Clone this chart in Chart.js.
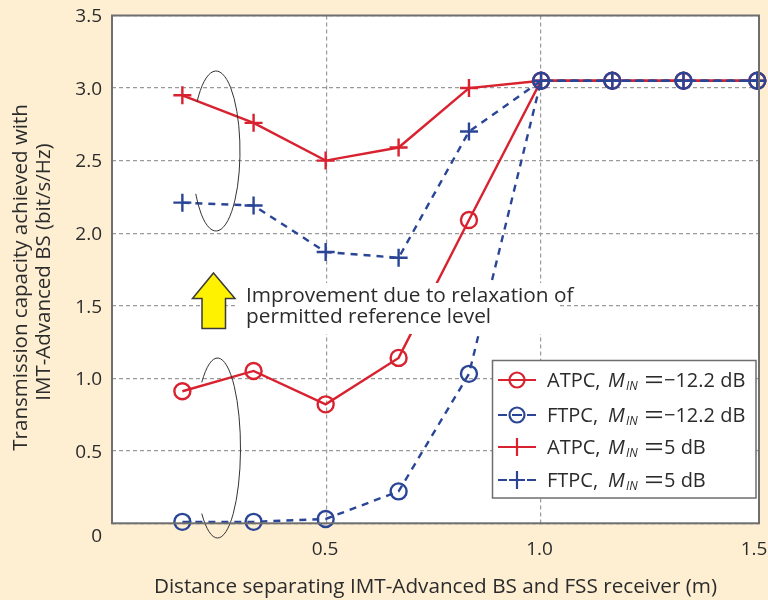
<!DOCTYPE html>
<html>
<head>
<meta charset="utf-8">
<title>Transmission capacity</title>
<script src="https://cdn.jsdelivr.net/npm/chart.js@4/dist/chart.umd.min.js"></script>
<style>
    html, body { margin: 0; padding: 0; background: #feefd3; }
    canvas { display: block; }
</style>
</head>
<body>
<canvas id="capacityChart" width="768" height="600"></canvas>
<script>
// values
const distances = [0.164, 0.33, 0.498, 0.668, 0.832, 1.0, 1.166, 1.332, 1.504];
const atpcLow = [0.91, 1.05, 0.82, 1.14, 2.09, 3.05, 3.05, 3.05, 3.05];
const ftpcLow = [0.01, 0.01, 0.03, 0.22, 1.03, 3.05, 3.05, 3.05, 3.05];
const atpcHigh = [2.95, 2.76, 2.5, 2.59, 3.0, 3.05, 3.05, 3.05, 3.05];
const ftpcHigh = [2.21, 2.19, 1.87, 1.83, 2.7, 3.05, 3.05, 3.05, 3.05];
const xTicks = [0.5, 1.0, 1.5];
const yTicks = [0, 0.5, 1.0, 1.5, 2.0, 2.5, 3.0, 3.5];

const RED = '#d8222f';
const BLUE = '#2a4596';
const DASH = [7, 6];
const FONT = '"Open Sans", "Noto Sans", sans-serif';
const TEXT = '#2b2b2b';
const GRID = '#9a9a9a';

function series(label, values, color, style, dashed, order) {
    return {
        label: label,
        data: values.map((v, i) => ({ x: distances[i], y: v })),
        showLine: true,
        borderColor: color,
        borderWidth: 2.4,
        borderDash: dashed ? DASH : [],
        pointStyle: style,
        pointRadius: style === 'circle' ? 8 : 9,
        pointBackgroundColor: 'transparent',
        pointBorderColor: color,
        pointBorderWidth: 2.4,
        tension: 0,
        clip: false,
        order: order,
    };
}

function drawEllipse(ctx, cx, cy, rx, ry, from, to) {
    ctx.save();
    ctx.strokeStyle = '#333';
    ctx.lineWidth = 1;
    ctx.beginPath();
    ctx.ellipse(cx, cy, rx, ry, 0, from, to);
    ctx.stroke();
    ctx.restore();
}

function drawArrow(ctx) {
    ctx.save();
    ctx.fillStyle = '#fff200';
    ctx.strokeStyle = '#3a3a3a';
    ctx.lineWidth = 1.5;
    ctx.beginPath();
    ctx.moveTo(213.5, 273);
    ctx.lineTo(235, 298.5);
    ctx.lineTo(225.5, 298.5);
    ctx.lineTo(225.5, 328.5);
    ctx.lineTo(202, 328.5);
    ctx.lineTo(202, 298.5);
    ctx.lineTo(192.5, 298.5);
    ctx.closePath();
    ctx.fill();
    ctx.stroke();
    ctx.restore();
}

function drawLegendRow(ctx, name, value, color, style, dashed, midY, baseY) {
    ctx.strokeStyle = color;
    ctx.lineWidth = 2.2;
    if (dashed) {
        ctx.beginPath();
        ctx.moveTo(498, midY);
        ctx.lineTo(507, midY);
        ctx.moveTo(527, midY);
        ctx.lineTo(536, midY);
        ctx.stroke();
    }
    ctx.beginPath();
    if (!dashed || style === 'cross') {
        ctx.moveTo(dashed ? 509 : 498, midY);
        ctx.lineTo(dashed ? 525 : 536, midY);
    } else {
        ctx.moveTo(512, midY);
        ctx.lineTo(522, midY);
    }
    if (style === 'cross') {
        ctx.moveTo(517, midY - 9);
        ctx.lineTo(517, midY + 9);
    } else {
        ctx.moveTo(517 + 7.5, midY);
        ctx.arc(517, midY, 7.5, 0, Math.PI * 2);
    }
    ctx.stroke();

    ctx.fillStyle = TEXT;
    ctx.textAlign = 'left';
    ctx.textBaseline = 'alphabetic';
    ctx.font = '20px ' + FONT;
    ctx.fillText(name + ',', 547, baseY);
    ctx.font = 'italic 20px ' + FONT;
    ctx.fillText('M', 608, baseY);
    ctx.font = 'italic 12px ' + FONT;
    ctx.fillText('IN', 626, baseY + 3);
    ctx.font = '20px ' + FONT;
    ctx.fillRect(646, baseY - 11, 16, 1.6);
    ctx.fillRect(646, baseY - 5.5, 16, 1.6);
    ctx.fillText(value, 664, baseY);
}

const plotBackground = {
    id: 'plotBackground',
    beforeDraw(chart) {
        const area = chart.chartArea;
        chart.ctx.save();
        chart.ctx.fillStyle = '#fff';
        chart.ctx.fillRect(area.left, area.top, area.right - area.left, area.bottom - area.top);
        chart.ctx.restore();
    },
};

// ellipses, arrow, note and legend sit on top of the lines
const overlays = {
    id: 'overlays',
    afterDatasetsDraw(chart) {
        const ctx = chart.ctx;
        const area = chart.chartArea;
        ctx.save();

        drawEllipse(ctx, 216, 151, 24, 80, Math.PI * 1.21, Math.PI * 2.82);
        drawEllipse(ctx, 217.5, 448, 23, 90, Math.PI * 1.26, Math.PI * 2.74);

        // white band behind the note
        ctx.fillStyle = '#fff';
        ctx.fillRect(237, 283, 321, 51);
        drawArrow(ctx);
        ctx.fillStyle = TEXT;
        ctx.font = '20.8px ' + FONT;
        ctx.textAlign = 'left';
        ctx.textBaseline = 'alphabetic';
        ctx.fillText('Improvement due to relaxation of', 246, 302);
        ctx.fillText('permitted reference level', 246, 323);

        // legend
        ctx.fillStyle = '#fff';
        ctx.fillRect(492.5, 360.5, 263.5, 137.5);
        ctx.strokeStyle = '#6e6e6e';
        ctx.lineWidth = 1.5;
        ctx.strokeRect(492.5, 360.5, 263.5, 137.5);
        drawLegendRow(ctx, 'ATPC', '\u221212.2 dB', RED, 'circle', false, 380, 387);
        drawLegendRow(ctx, 'FTPC', '\u221212.2 dB', BLUE, 'circle', true, 415, 422);
        drawLegendRow(ctx, 'ATPC', '5 dB', RED, 'cross', false, 447, 454);
        drawLegendRow(ctx, 'FTPC', '5 dB', BLUE, 'cross', true, 480, 487);

        // frame
        ctx.strokeStyle = '#6e6e6e';
        ctx.lineWidth = 2;
        ctx.strokeRect(area.left, area.top, area.right - area.left, area.bottom - area.top);
        ctx.restore();
    },
};

const capacityChart = new Chart(document.querySelector('#capacityChart'), {
    type: 'scatter',
    data: {
        datasets: [
            series('ATPC, MIN = -12.2 dB', atpcLow, RED, 'circle', false, 4),
            series('FTPC, MIN = -12.2 dB', ftpcLow, BLUE, 'circle', true, 1),
            series('ATPC, MIN = 5 dB', atpcHigh, RED, 'cross', false, 3),
            series('FTPC, MIN = 5 dB', ftpcHigh, BLUE, 'cross', true, 2),
        ],
    },
    plugins: [plotBackground, overlays],
    options: {
        responsive: false,
        animation: false,
        layout: {
            autoPadding: false,
            padding: { top: 15.5, right: 9, left: 0, bottom: 0 },
        },
        plugins: {
            legend: { display: false },
            tooltip: { enabled: false },
        },
        scales: {
            x: {
                type: 'linear',
                min: 0,
                max: 1.508,
                afterFit(scale) {
                    scale.height = 76.7;
                    scale.paddingLeft = 0;
                    scale.paddingRight = 0;
                },
                afterBuildTicks(scale) {
                    scale.ticks = xTicks.map((v) => ({ value: v }));
                },
                grid: {
                    color: (c) => (c.tick && c.tick.value === 1.5 ? 'transparent' : GRID),
                    lineWidth: 1.2,
                    drawTicks: false,
                },
                border: { display: false, dash: [4, 3] },
                ticks: {
                    autoSkip: false,
                    maxRotation: 0,
                    padding: 15,
                    labelOffset: -1.5,
                    color: TEXT,
                    font: { family: FONT, size: 19 },
                    callback: (v) => v.toFixed(1),
                },
                title: {
                    display: true,
                    text: 'Distance separating IMT-Advanced BS and FSS receiver (m)',
                    color: TEXT,
                    font: { family: FONT, size: 20.7 },
                    padding: { top: 12, bottom: 0 },
                },
            },
            y: {
                type: 'linear',
                min: 0,
                max: 3.5,
                afterFit(scale) {
                    scale.width = 112;
                    scale.paddingTop = 0;
                    scale.paddingBottom = 0;
                },
                afterBuildTicks(scale) {
                    scale.ticks = yTicks.map((v) => ({ value: v }));
                },
                grid: {
                    color: GRID,
                    lineWidth: 1.2,
                    drawTicks: false,
                },
                border: { display: false, dash: [4, 3] },
                ticks: {
                    autoSkip: false,
                    padding: 10,
                    labelOffset: 1.5,
                    color: TEXT,
                    font: { family: FONT, size: 19 },
                    // the zero label hangs below the axis line
                    callback: (v) => (v === 0 ? ['', '0'] : v.toFixed(1)),
                },
                title: {
                    display: true,
                    // trailing spaces push the centred lines down a little
                    text: ['Transmission capacity achieved with   ', 'IMT-Advanced BS (bit/s/Hz) '],
                    color: TEXT,
                    font: { family: FONT, size: 20.5, lineHeight: 1.12 },
                    padding: { top: 10, bottom: 0 },
                },
            },
        },
    },
});
</script>
</body>
</html>
